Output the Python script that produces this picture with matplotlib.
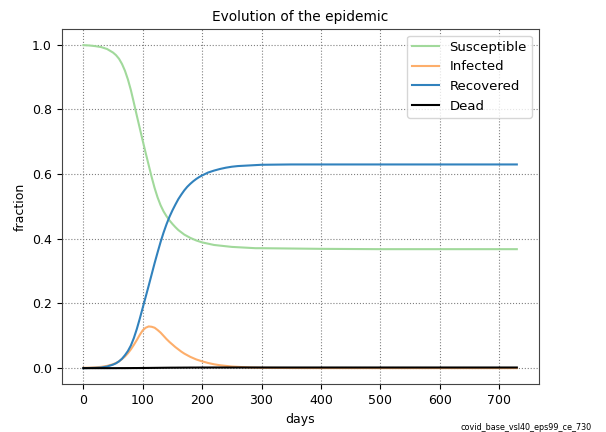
import matplotlib
matplotlib.use("Agg")
import matplotlib.pyplot as plt

# values
days = [0, 10, 20, 30, 40,
        50, 55, 60, 65, 70, 75, 80, 85, 90, 95, 100, 105, 110, 115, 120, 125,
        130, 135, 140, 145, 150, 155, 160, 165, 170, 175, 180, 185, 190, 195, 200,
        210, 220, 230, 240, 250, 260, 270, 280, 290, 300,
        350, 400, 500, 600, 730]
susceptible = [0.999, 0.998, 0.996, 0.993, 0.987,
               0.976, 0.968, 0.957, 0.941, 0.920, 0.893, 0.860, 0.821, 0.781, 0.742,
               0.703, 0.665, 0.628, 0.591, 0.557, 0.528, 0.504, 0.485, 0.470, 0.457,
               0.446, 0.436, 0.427, 0.420, 0.413, 0.408, 0.403, 0.399, 0.395, 0.392, 0.389,
               0.385, 0.381, 0.379, 0.377, 0.375, 0.374, 0.373, 0.372, 0.371, 0.371,
               0.370, 0.369, 0.368, 0.368, 0.368]
infected = [0.001, 0.0015, 0.0025, 0.004, 0.007,
            0.012, 0.016, 0.021, 0.028, 0.036, 0.046, 0.058, 0.072, 0.087, 0.103,
            0.117, 0.125, 0.129, 0.128, 0.125, 0.118, 0.110, 0.100, 0.090, 0.081,
            0.073, 0.065, 0.058, 0.051, 0.045, 0.040, 0.035, 0.031, 0.027, 0.024, 0.021,
            0.016, 0.012, 0.009, 0.007, 0.005, 0.004, 0.003, 0.002, 0.0015, 0.001,
            0.0003, 0.0001, 0.0, 0.0, 0.0]
recovered = [0.0, 0.0005, 0.001, 0.002, 0.005,
             0.011, 0.015, 0.021, 0.029, 0.040, 0.053, 0.070, 0.093, 0.121, 0.153,
             0.187, 0.221, 0.255, 0.290, 0.325, 0.358, 0.390, 0.419, 0.445, 0.468,
             0.488, 0.506, 0.523, 0.537, 0.550, 0.561, 0.570, 0.578, 0.585, 0.591, 0.596,
             0.605, 0.611, 0.616, 0.620, 0.623, 0.625, 0.626, 0.627, 0.628, 0.629,
             0.630, 0.630, 0.630, 0.630, 0.630]
dead = [0.0, 0.0, 0.0, 0.0, 0.0,
        0.0, 0.0, 0.0001, 0.0001, 0.0001, 0.0002, 0.0002, 0.0003, 0.0003, 0.0004,
        0.0005, 0.0006, 0.0007, 0.0008, 0.0009, 0.001, 0.0011, 0.0012, 0.0013, 0.0014,
        0.0015, 0.0015, 0.0016, 0.0016, 0.0017, 0.0017, 0.0018, 0.0018, 0.0018, 0.0019, 0.0019,
        0.0019, 0.002, 0.002, 0.002, 0.002, 0.002, 0.002, 0.002, 0.002, 0.002,
        0.002, 0.002, 0.002, 0.002, 0.002]

fig = plt.figure(figsize=(6.06, 4.32), dpi=100)
ax = fig.add_axes([61.7/606, 1 - 384.3/432, 476.8/606, 355.3/432])

ax.plot(days, susceptible, color="#a1d99b", lw=1.5, label="Susceptible")
ax.plot(days, infected, color="#fdae6b", lw=1.5, label="Infected")
ax.plot(days, recovered, color="#3182bd", lw=1.5, label="Recovered")
ax.plot(days, dead, color="black", lw=1.5, label="Dead")

ax.set_title("Evolution of the epidemic", fontsize=9.9)
ax.set_xlabel("days", fontsize=9)
ax.set_ylabel("fraction", fontsize=9)
ax.tick_params(labelsize=9)
ax.grid(True, linestyle=":", color="gray", lw=0.8)
for s in ax.spines.values():
    s.set_color("#444444")
ax.legend(loc="upper right", fontsize=9.5)

fig.text(592/606, 0.005, "covid_base_vsl40_eps99_ce_730", fontsize=5.8, ha="right", va="baseline")

fig.savefig("out.png", dpi=100)
